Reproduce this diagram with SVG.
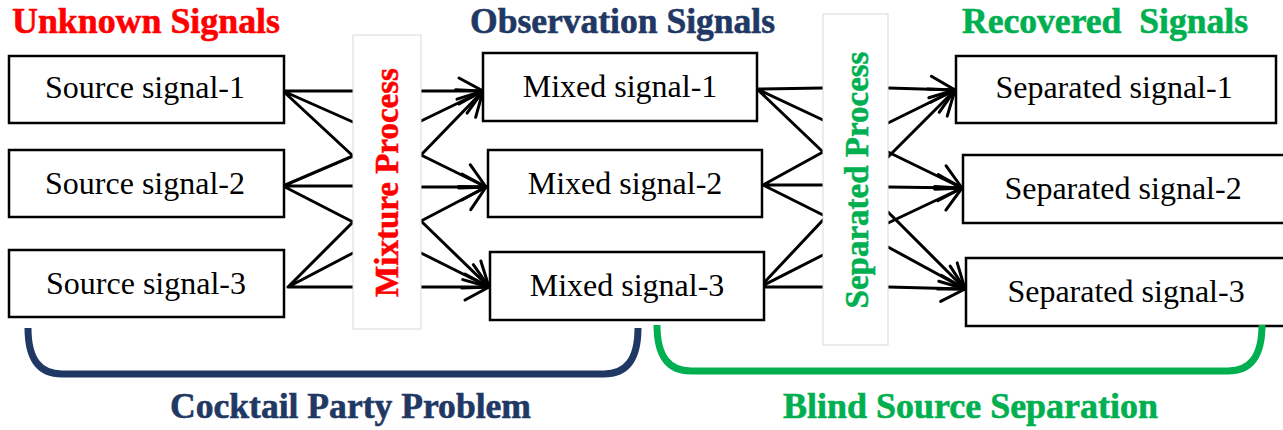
<svg xmlns="http://www.w3.org/2000/svg" width="1283" height="430" viewBox="0 0 1283 430">
<style>
.box{fill:#fff;stroke:#000;stroke-width:2.5}
.proc{fill:#fff;stroke:#d9d9d9;stroke-width:1}
.lbl{font-family:"Liberation Serif","Times New Roman",serif;font-size:32px;fill:#000;text-anchor:middle}
.ttl{font-family:"Liberation Serif","Times New Roman",serif;font-size:36px;font-weight:bold;stroke-width:0.6}
.vt{font-family:"Liberation Serif","Times New Roman",serif;font-size:33px;font-weight:bold;text-anchor:middle;stroke-width:0.5}
.ln{stroke:#000;stroke-width:3;fill:none;stroke-linecap:round}
.arr{marker-end:url(#ah)}
.br{fill:none;stroke-width:7}
</style>
<defs>
<marker id="ah" markerUnits="userSpaceOnUse" markerWidth="32" markerHeight="32" viewBox="-28 -16 32 32" refX="0" refY="0" orient="auto">
<path d="M-24,-13 L0,0 L-24,13" fill="none" stroke="#000" stroke-width="3" stroke-linecap="round" stroke-linejoin="miter"/>
</marker>
</defs>
<rect width="1283" height="430" fill="#fff"/>

<g id="titles">
<text class="ttl" x="12" y="33" fill="#ff0000" stroke="#ff0000" textLength="268" lengthAdjust="spacingAndGlyphs">Unknown Signals</text>
<text class="ttl" x="470" y="33" fill="#1f3864" stroke="#1f3864" textLength="305" lengthAdjust="spacingAndGlyphs">Observation Signals</text>
<text class="ttl" x="962" y="33" fill="#00b050" stroke="#00b050" xml:space="preserve" textLength="286" lengthAdjust="spacingAndGlyphs">Recovered  Signals</text>
</g>

<g id="connectors">
<path class="ln" d="M283,91 L353,91 M283,91 L353,122 M283,91 L353,156"/>
<path class="ln" d="M283,186 L353,156 M283,186 L353,186 M283,186 L353,222"/>
<path class="ln" d="M288,287 L353,222 M288,287 L353,253 M288,287 L353,287"/>
<line class="ln arr" x1="421" y1="91" x2="483" y2="91"/>
<line class="ln arr" x1="421" y1="121" x2="483" y2="91"/>
<line class="ln arr" x1="421" y1="155" x2="483" y2="91"/>
<line class="ln arr" x1="421" y1="155" x2="486" y2="187"/>
<line class="ln arr" x1="421" y1="187" x2="486" y2="187"/>
<line class="ln arr" x1="421" y1="221" x2="486" y2="187"/>
<line class="ln arr" x1="421" y1="221" x2="489" y2="287"/>
<line class="ln arr" x1="421" y1="253" x2="489" y2="287"/>
<line class="ln arr" x1="421" y1="287" x2="489" y2="287"/>
<path class="ln" d="M757,89 L823,88 M757,89 L823,120 M757,89 L823,152"/>
<path class="ln" d="M763,185 L823,152 M763,185 L823,185 M763,185 L823,215"/>
<path class="ln" d="M760,287 L823,220 M760,287 L823,255 M760,287 L823,287"/>
<line class="ln arr" x1="888" y1="88" x2="955" y2="90"/>
<line class="ln arr" x1="888" y1="123" x2="955" y2="90"/>
<line class="ln arr" x1="888" y1="157" x2="955" y2="90"/>
<line class="ln arr" x1="888" y1="152" x2="962" y2="188"/>
<line class="ln arr" x1="888" y1="187" x2="962" y2="188"/>
<line class="ln arr" x1="888" y1="223" x2="962" y2="188"/>
<line class="ln arr" x1="888" y1="212" x2="965" y2="289"/>
<line class="ln arr" x1="888" y1="247" x2="965" y2="289"/>
<line class="ln arr" x1="888" y1="287" x2="965" y2="289"/>
</g>

<g id="source1"><rect class="box" x="9" y="56" width="275" height="67"/><text class="lbl" x="145" y="98">Source signal-1</text></g>
<g id="source2"><rect class="box" x="9" y="150" width="275" height="67"/><text class="lbl" x="145" y="194">Source signal-2</text></g>
<g id="source3"><rect class="box" x="9" y="250" width="275" height="67"/><text class="lbl" x="146" y="294">Source signal-3</text></g>

<g id="mixture"><rect class="proc" x="353" y="35" width="68" height="294"/><text class="vt" fill="#ff0000" stroke="#ff0000" transform="translate(398,182.5) rotate(-90)">Mixture Process</text></g>

<g id="mixed1"><rect class="box" x="483" y="53" width="274" height="68"/><text class="lbl" x="620" y="97">Mixed signal-1</text></g>
<g id="mixed2"><rect class="box" x="488" y="150" width="274" height="67"/><text class="lbl" x="625" y="194">Mixed signal-2</text></g>
<g id="mixed3"><rect class="box" x="490" y="252" width="274" height="68"/><text class="lbl" x="627" y="296">Mixed signal-3</text></g>

<g id="separated"><rect class="proc" x="823" y="14" width="65" height="331"/><text class="vt" fill="#00b050" stroke="#00b050" transform="translate(868,180) rotate(-90)">Separated Process</text></g>

<g id="sep1"><rect class="box" x="956" y="56" width="320" height="67"/><text class="lbl" x="1114" y="98">Separated signal-1</text></g>
<g id="sep2"><rect class="box" x="963" y="155" width="322" height="68"/><text class="lbl" x="1123" y="199">Separated signal-2</text></g>
<g id="sep3"><rect class="box" x="966" y="258" width="320" height="68"/><text class="lbl" x="1126" y="302">Separated signal-3</text></g>

<g id="cocktail">
<path class="br" stroke="#1f3864" d="M28,328 C28,360 40,374 62,374 L604,374 C626,374 638,360 638,328"/>
<text class="ttl" x="170" y="418" fill="#1f3864" stroke="#1f3864" textLength="361" lengthAdjust="spacingAndGlyphs">Cocktail Party Problem</text>
</g>
<g id="bss">
<path class="br" stroke="#00b050" d="M657,325 C657,357 669,371 691,371 L1228,371 C1250,371 1262,357 1262,325"/>
<text class="ttl" x="783" y="418" fill="#00b050" stroke="#00b050" textLength="375" lengthAdjust="spacingAndGlyphs">Blind Source Separation</text>
</g>
</svg>
